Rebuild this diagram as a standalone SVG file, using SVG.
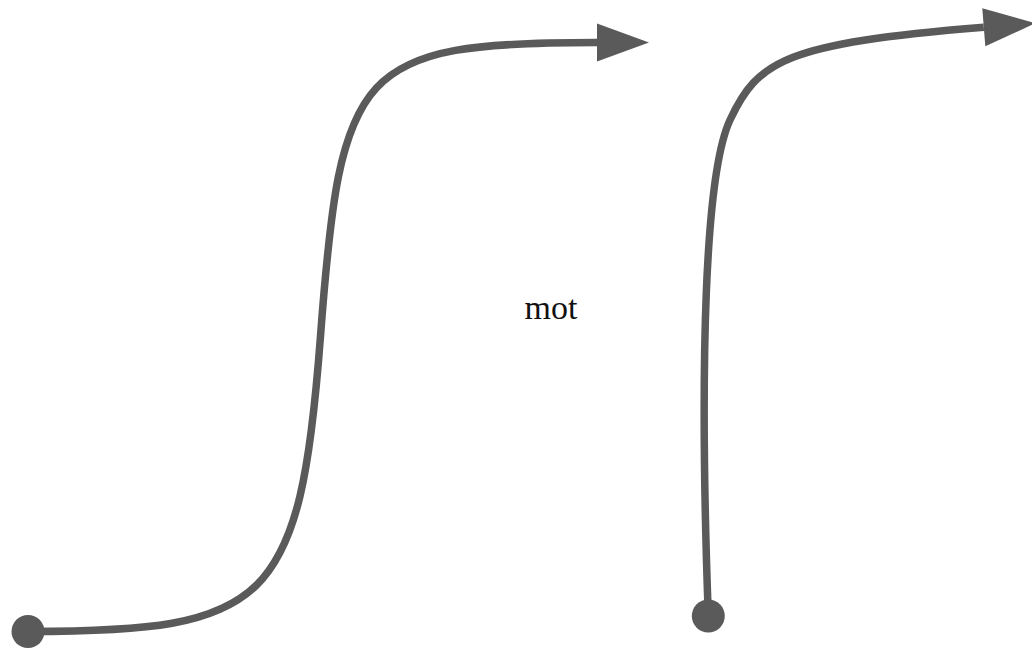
<svg xmlns="http://www.w3.org/2000/svg" width="1032" height="649" viewBox="0 0 1032 649">
  <style>
    .link { fill: none; stroke: #5a5a5a; stroke-width: 7.5; marker-start: url(#dot); marker-end: url(#arrow); }
    .label { font-family: "Liberation Serif", "Times New Roman", serif; font-size: 34px; fill: #111; text-anchor: middle; }
  </style>
  <defs>
    <marker id="arrow" markerUnits="userSpaceOnUse" viewBox="0 0 52 38" markerWidth="52" markerHeight="38" refX="0" refY="19" orient="auto" overflow="visible">
      <path d="M0,0 L52,19 L0,38 Z" fill="#5a5a5a"/>
    </marker>
    <marker id="dot" markerUnits="userSpaceOnUse" viewBox="-17 -17 34 34" markerWidth="34" markerHeight="34" refX="0" refY="0" orient="0" overflow="visible">
      <circle cx="0" cy="0" r="16.5" fill="#5a5a5a"/>
    </marker>
  </defs>
  <rect width="1032" height="649" fill="#ffffff"/>
  <g id="connectors">
    <path id="link1" class="link" d="M28,631.5 C268,631.5 300.25,606 320.5,336 C340.75,66 357,42.5 597,42.5"/>
    <path id="link2" class="link" d="M708.3,616 C699.25,366 704.6,174.4 730,120 C757.6,61.1 784.4,43.3 983.8,27.3"/>
  </g>
  <g id="node-mot">
    <text class="label" x="551" y="319">mot</text>
  </g>
</svg>
